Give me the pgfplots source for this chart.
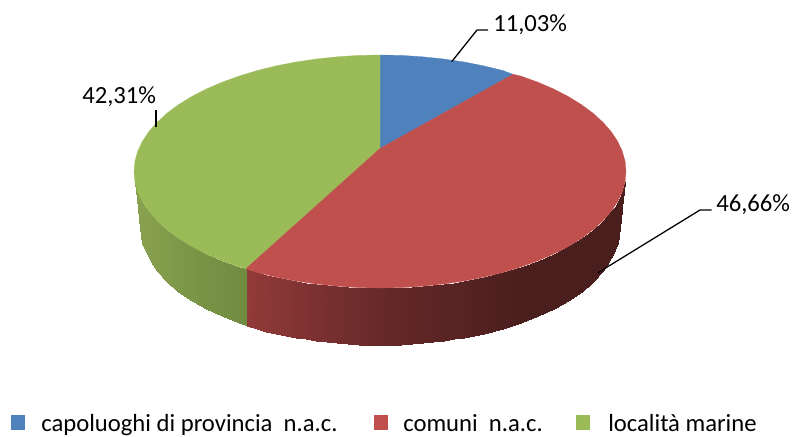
\documentclass[border=0pt]{standalone}
\usepackage{pgfplots}
\pgfplotsset{compat=1.18}
\usepackage{fontspec}
\setmainfont{Carlito}
\definecolor{pieblue}{RGB}{79,129,189}
\definecolor{piered}{RGB}{192,80,77}
\definecolor{piegreen}{RGB}{155,187,89}
\newcommand{\lab}{\fontsize{18.5}{20}\selectfont}

\begin{document}
\begin{tikzpicture}
\useasboundingbox (0,0) rectangle (594.75pt,327pt);
\begin{axis}[
  at={(0,0)}, anchor=south west, scale only axis,
  width=594.75pt, height=327pt,
  xmin=0, xmax=793, ymin=0, ymax=436, y dir=reverse,
  hide axis, clip=false,
  point meta min=134, point meta max=626,
  colormap={pieside}{rgb255(134pt)=(136,162,80) rgb255(246.9pt)=(112,138,64)
    rgb255(247pt)=(145,58,57) rgb255(380pt)=(103,41,41) rgb255(520pt)=(75,30,30) rgb255(626pt)=(75,30,30)},
]
% side walls, x / top edge and bottom edge
\addplot[surf, shader=interp, point meta=x] table {
x y
134 171.5
134 171.5

134.9 181.7
134.9 182

137.7 191.7
137.7 208

139 194.5
139 220

142.4 201.7
142.4 243

145 206.5
145 250

148.8 211.3
148.8 258.2

152.7 216
152.7 264.8

157 220.7
157 270.8

167 229.8
167 281.7

178.5 238.3
178.5 291.5

191.6 246.4
191.6 300.5

206.1 253.9
206.1 308.7

221.9 260.7
221.9 316.1

238.9 266.9
238.9 322.7

248 269.3
248 326
};
\addplot[surf, shader=interp, point meta=x] table {
x y
247 269
247 325.9

257 272.4
257 328.7

266 275
266 331.5

276 277.1
276 333.7

286 279.2
286 336

295.9 281
295.9 337.8

306 282.6
306 339.4

316.3 284
316.3 340.9

327 285.2
327 342.2

337.3 286.2
337.3 343.2

348 287
348 344

358.5 287.6
358.5 344.5

369 287.9
369 344.9

380 288
380 345

391 287.9
391 344.9

401.5 287.6
401.5 344.5

412 287
412 344

422.7 286.2
422.7 343.2

433 285.2
433 342.2

443.7 284
443.7 340.9

454 282.6
454 339.4

464.1 281
464.1 337.8

474 279.2
474 336

484 277.1
484 333.7

503 272.4
503 328.5

521.1 266.9
521.1 322.7

538.1 260.7
538.1 316.1

553.9 253.9
553.9 308.7

568.4 246.4
568.4 300.5

581.5 238.3
581.5 291.5

593 229.8
593 281.7

603 220.7
603 270.8

607.3 216
607.3 264.8

611.2 211.3
611.2 258.2

615 206.5
615 250

617.6 201.7
617.6 243

621 194.5
621 220

622.3 191.7
622.3 208

625.1 181.7
625.1 182

626 171.5
626 171.5
};
% top of the pie
\addplot[fill=pieblue, draw=pieblue, line width=0.2pt] coordinates {
(380,148.5)(380,55)(401.5,55.4)(422.7,56.8)(443.7,59)(464.1,62)(484,65.9)(503,70.6)(513,74.3)} -- cycle;
\addplot[fill=piegreen, draw=piegreen, line width=0.2pt] coordinates {
(380,148.5)(246,268.7)(238.9,266.9)(221.9,260.7)(206.1,253.9)(191.6,246.4)(178.5,238.3)(167,229.8)(157,220.7)(148.8,211.3)(142.4,201.7)(137.7,191.7)(134.9,181.7)(134,171.5)(134.9,161.3)(137.7,151.3)(142.4,141.3)(148.8,131.7)(157,122.3)(167,113.2)(178.5,104.7)(191.6,96.6)(206.1,89.1)(221.9,82.3)(238.9,76.1)(257,70.6)(276,65.9)(295.9,62)(316.3,59)(337.3,56.8)(358.5,55.4)(380,55)} -- cycle;
\addplot[fill=piered, draw=piered, line width=0.2pt] coordinates {
(380,148.5)(513,74.3)(521.1,76.1)(538.1,82.3)(553.9,89.1)(568.4,96.6)(581.5,104.7)(593,113.2)(603,122.3)(611.2,131.7)(617.6,141.3)(622.3,151.3)(625.1,161.3)(626,171.5)(625.1,181.7)(622.3,191.7)(617.6,201.7)(611.2,211.3)(603,220.7)(593,229.8)(581.5,238.3)(568.4,246.4)(553.9,253.9)(538.1,260.7)(521.1,266.9)(503,272.4)(484,277.1)(464.1,281)(443.7,284)(422.7,286.2)(401.5,287.6)(380,288)(358.5,287.6)(337.3,286.2)(316.3,284)(295.9,281)(276,277.1)(257,272.4)(246,268.7)} -- cycle;
% leader lines
\addplot[black, line width=0.95pt] coordinates {(451.7,61.7)(477,30)(488,30)};
\addplot[black, line width=0.95pt] coordinates {(598,272.7)(700,210)(711.7,210)};
\addplot[black, line width=0.95pt] coordinates {(156,110)(156,126.7)};
% labels
\node[anchor=base west, inner sep=0pt] at (axis cs:493,31) {\lab 11,03\%};
\node[anchor=base west, inner sep=0pt] at (axis cs:716,211.7) {\lab 46,66\%};
\node[anchor=base west, inner sep=0pt] at (axis cs:82,103) {\lab 42,31\%};
% legend
\addplot[fill=pieblue, draw=none] coordinates {(11,415)(25,415)(25,430)(11,430)} -- cycle;
\addplot[fill=piered, draw=none] coordinates {(374,415)(388,415)(388,430)(374,430)} -- cycle;
\addplot[fill=piegreen, draw=none] coordinates {(576,415)(590,415)(590,430)(576,430)} -- cycle;
\node[anchor=base west, inner sep=0pt] at (axis cs:41,431) {\lab capoluoghi di provincia\ \ n.a.c.};
\node[anchor=base west, inner sep=0pt] at (axis cs:403,431) {\lab comuni\ \ n.a.c.};
\node[anchor=base west, inner sep=0pt] at (axis cs:608,431) {\lab località marine};
\end{axis}
\end{tikzpicture}
\end{document}
